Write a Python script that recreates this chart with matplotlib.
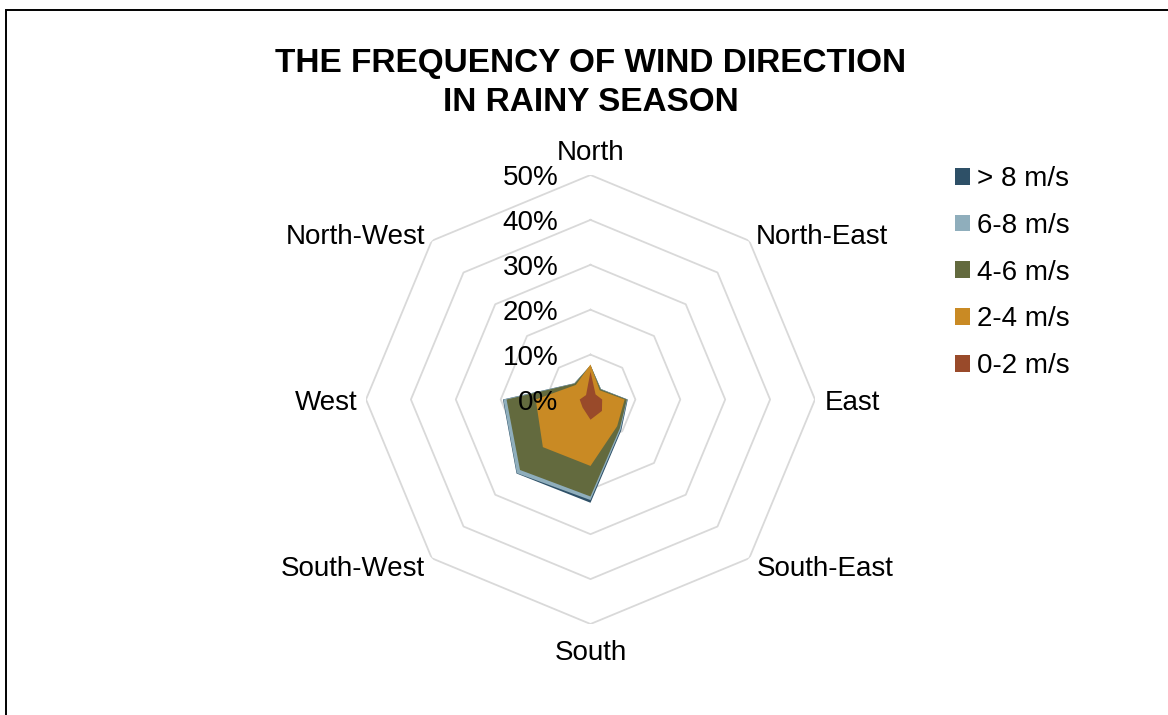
import matplotlib
matplotlib.use('Agg')
import matplotlib.pyplot as plt
import matplotlib.transforms as mtransforms
from matplotlib.patches import Patch, Rectangle
import numpy as np

plt.rcParams['font.family'] = ['Liberation Sans', 'DejaVu Sans']

# directions clockwise from North
directions = ['North', 'North-East', 'East', 'South-East',
              'South', 'South-West', 'West', 'North-West']

# cumulative frequency (%) per speed class, as plotted
speed_labels = ['> 8 m/s', '6-8 m/s', '4-6 m/s', '2-4 m/s', '0-2 m/s']
gt8 = [7.6, 3.3, 8.3, 9.7, 23.0, 23.3, 19.5, 5.1]
s6_8 = [7.6, 3.3, 8.2, 9.5, 22.4, 23.2, 19.4, 5.1]
s4_6 = [7.6, 3.2, 8.1, 9.2, 21.6, 22.2, 18.7, 5.0]
s2_4 = [7.8, 2.9, 7.6, 8.4, 14.8, 15.0, 12.2, 4.6]
s0_2 = [6.2, 1.6, 2.6, 3.6, 4.5, 2.5, 2.4, 1.4]
series = [gt8, s6_8, s4_6, s2_4, s0_2]
colors = ['#2E5067', '#8FAEBC', '#636A3E', '#C98A24', '#994A2A']

levels = [10, 20, 30, 40, 50]
tick_levels = [0, 10, 20, 30, 40, 50]

fig = plt.figure(figsize=(11.68, 7.15), dpi=100)

# chart frame (bottom/right run off the image)
fig.patches.append(Rectangle((6 / 1168, -0.1), 1.2, 1.1 - 10 / 715,
                             transform=fig.transFigure, fill=False,
                             edgecolor='black', linewidth=1.4, zorder=0))

ax = fig.add_axes([366 / 1168, 91 / 715, 449 / 1168, 449 / 715], projection='polar')
ax.set_theta_zero_location('N')
ax.set_theta_direction(-1)
ax.set_ylim(0, 50)
ax.set_xticks([])
ax.set_yticks([])
ax.grid(False)
ax.spines['polar'].set_visible(False)
ax.patch.set_alpha(0)

theta = np.deg2rad(np.arange(8) * 45.0)
theta_c = np.append(theta, theta[0])

# octagon gridlines
for lv in levels:
    ax.plot(theta_c, [lv] * 9, color='#D9D9D9', lw=1.3, zorder=1)

# filled series, largest first
for vals, c in zip(series, colors):
    v = np.append(vals, vals[0])
    ax.fill(theta_c, v, color=c, lw=0, zorder=2)

# radial labels (left of north axis)
off = mtransforms.offset_copy(ax.transData, fig=fig, x=-32 * 0.72, y=-3 * 0.72, units='points')
for lv in tick_levels:
    ax.text(0, lv, f'{lv}%', transform=off, ha='right', va='center',
            fontsize=20, zorder=5)

# direction labels
down = mtransforms.offset_copy(ax.transData, fig=fig, x=0, y=-3 * 0.72, units='points')
label_pos = [
    (0, 55.6, 'center'),
    (45, 52.0, 'left'),
    (90, 52.2, 'left'),
    (135, 52.3, 'left'),
    (180, 55.8, 'center'),
    (225, 52.3, 'right'),
    (270, 52.0, 'right'),
    (315, 52.0, 'right'),
]
for name, (ang, r, ha) in zip(directions, label_pos):
    ax.text(np.deg2rad(ang), r, name, transform=down, ha=ha, va='center',
            fontsize=20, clip_on=False)

fig.text(591 / 1168, 1 - 83 / 715, 'THE FREQUENCY OF WIND DIRECTION\nIN RAINY SEASON',
         ha='center', va='center', fontsize=24, fontweight='bold', linespacing=1.3)

handles = [Patch(facecolor=c, edgecolor='none') for c in colors]
fig.legend(handles, speed_labels, loc='upper left',
           bbox_to_anchor=(955 / 1168, 1 - 166 / 715), frameon=False,
           fontsize=20, handlelength=0.55, handleheight=0.55,
           handletextpad=0.25, labelspacing=0.75, borderaxespad=0, borderpad=0)

fig.savefig('out.png', dpi=100)
